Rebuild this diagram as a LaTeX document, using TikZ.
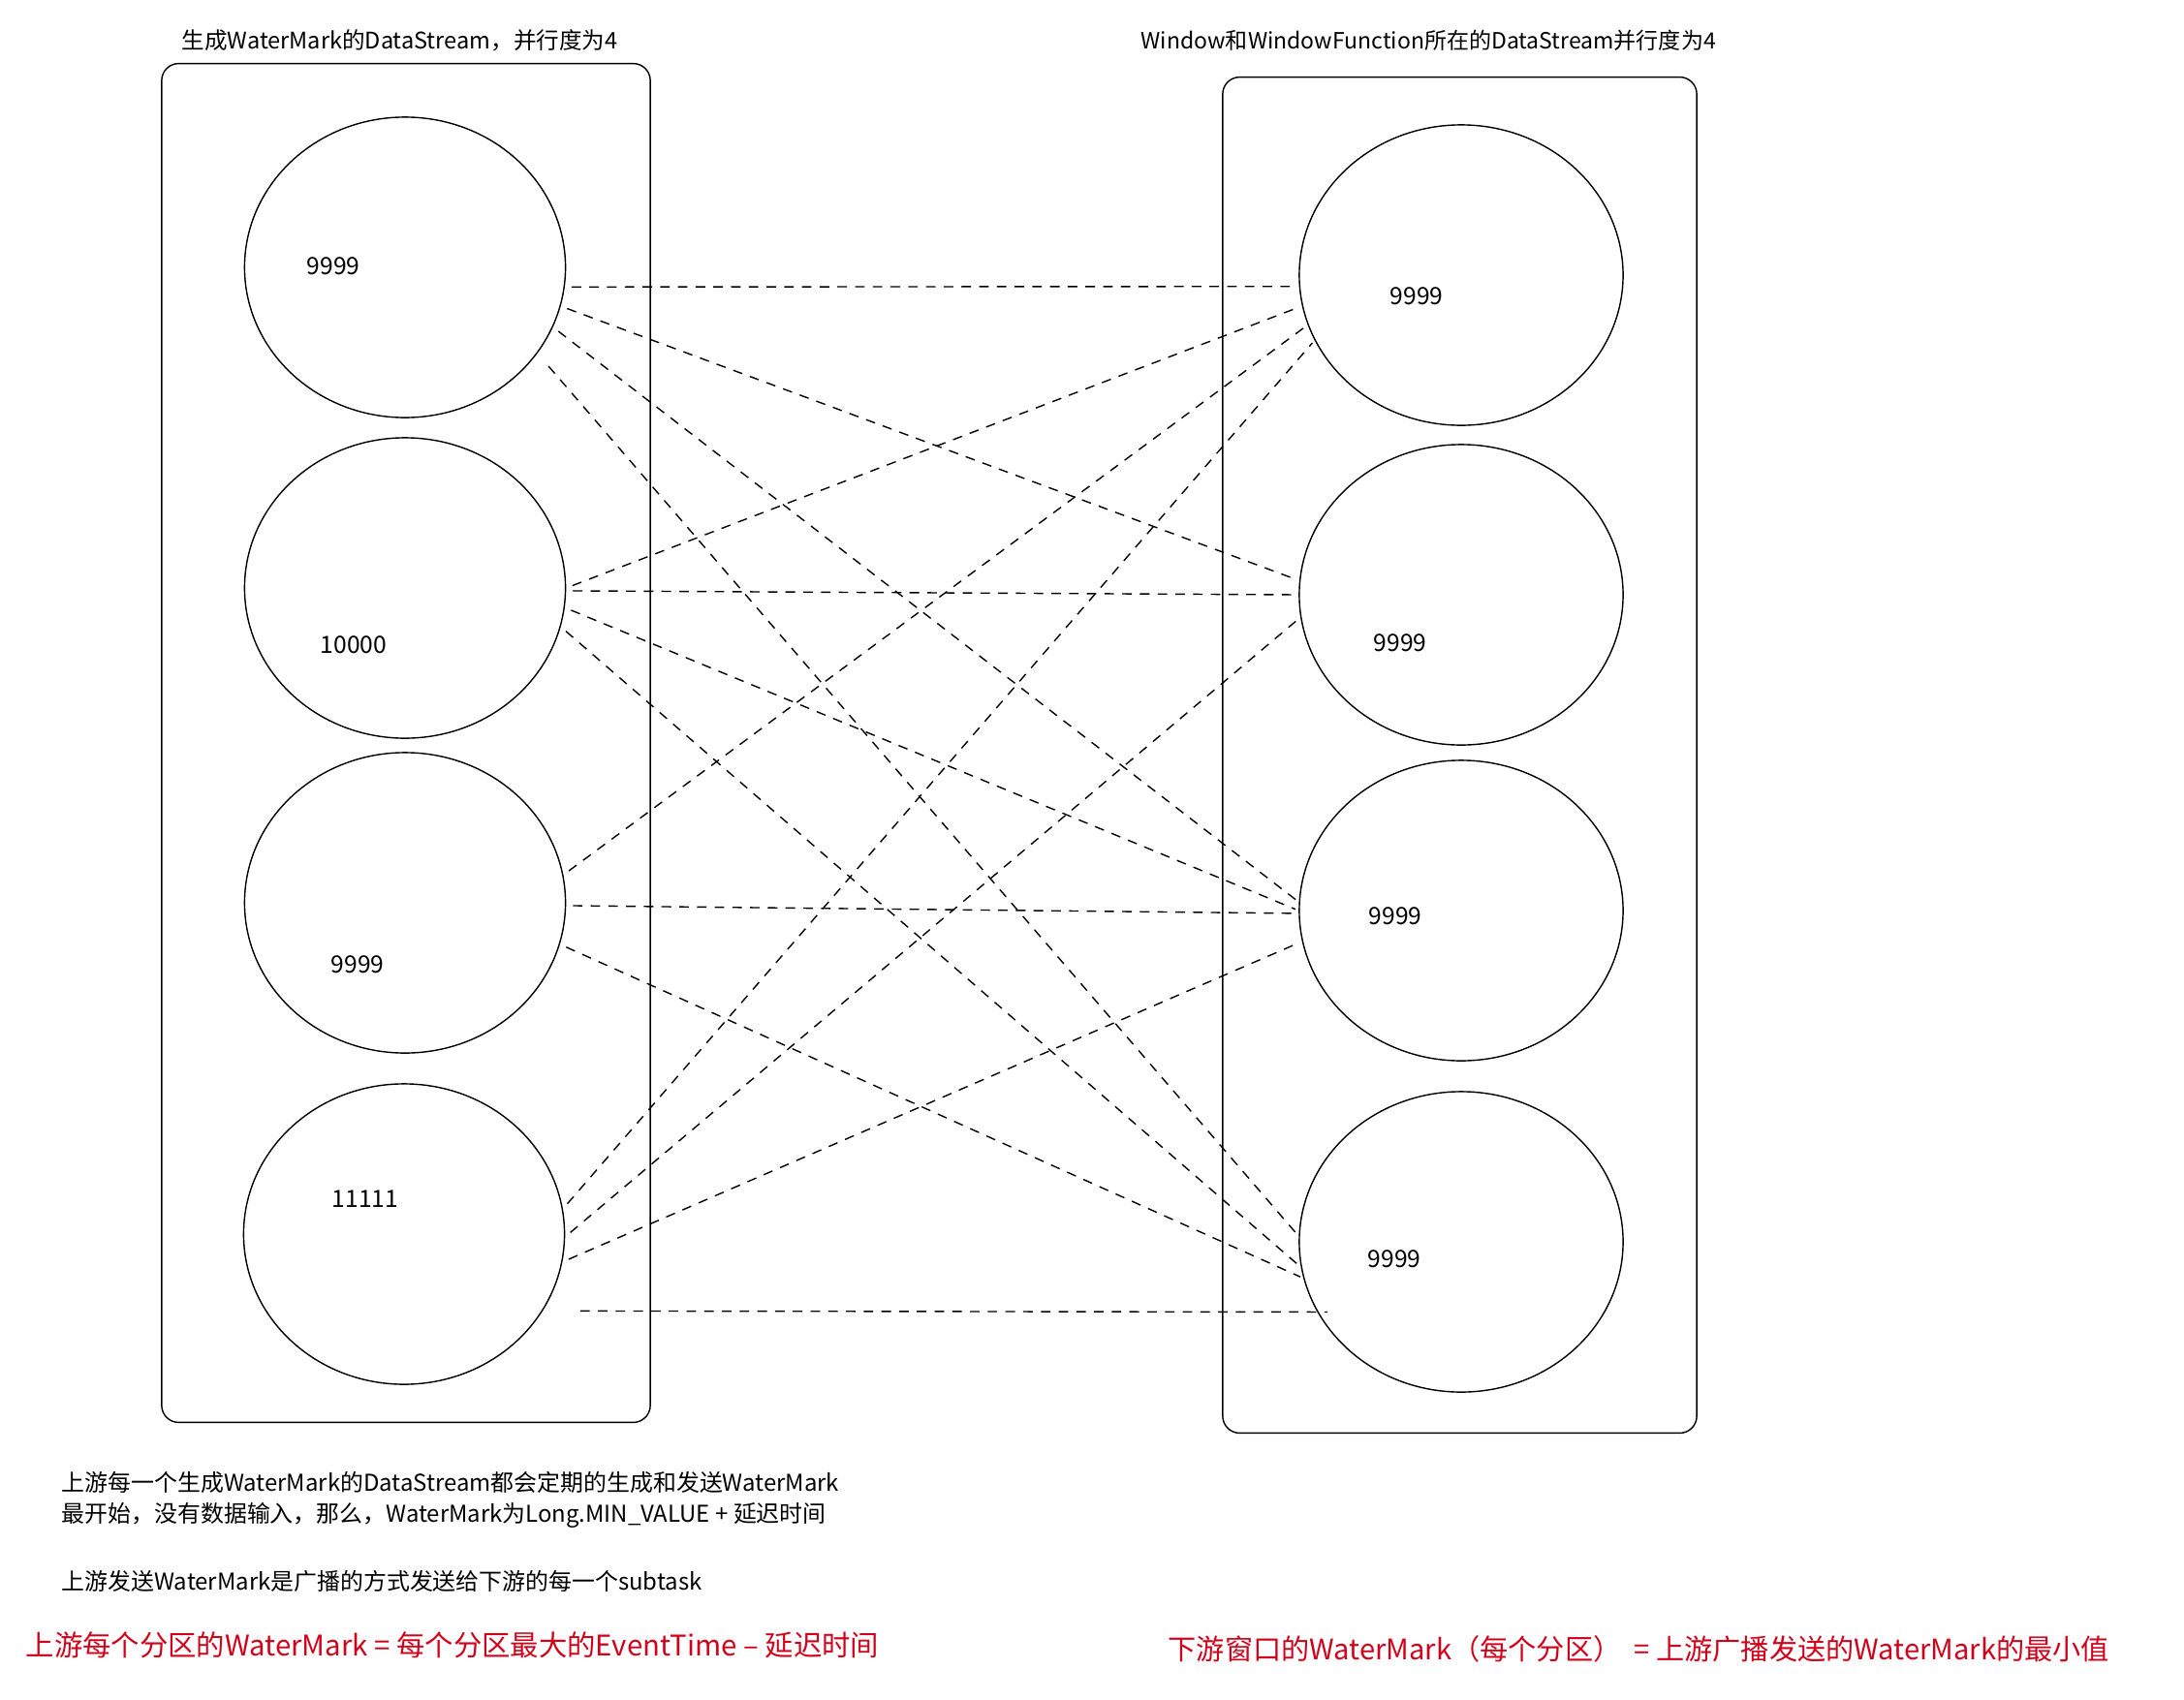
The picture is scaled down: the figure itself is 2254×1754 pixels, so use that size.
\documentclass[tikz,border=0pt]{standalone}
\usepackage{fontspec}
\setmainfont{Noto Sans CJK SC}
\usetikzlibrary{shapes.geometric}
\definecolor{wmred}{RGB}{208,2,27}

\begin{document}
\begin{tikzpicture}[x=0.01cm,y=-0.01cm]
  \tikzstyle{frame}=[draw,rounded corners=5pt,line width=0.4pt,inner sep=0pt]
  \tikzstyle{task}=[draw,ellipse,line width=0.4pt,minimum width=3.31cm,minimum height=3.1cm,inner sep=0pt]
  \tikzstyle{num}=[inner sep=0pt,font=\fontsize{7pt}{8pt}\selectfont]
  \tikzstyle{txt}=[anchor=west,inner sep=0pt,font=\fontsize{6.8pt}{8pt}\selectfont]
  \tikzstyle{rule}=[anchor=west,inner sep=0pt,text=wmred,font=\fontsize{8.35pt}{10pt}\selectfont]
  \tikzstyle{wm}=[line width=0.4pt,dash pattern=on 2.8pt off 2.4pt,shorten <=2pt,shorten >=1pt]
  \useasboundingbox (0,0) rectangle (2254,1754);
  \node[frame,minimum width=5.04cm,minimum height=14.02cm] (lbox) at (419,767) {};
  \node[frame,minimum width=4.89cm,minimum height=13.99cm] (rbox) at (1506.5,779.5) {};
  \node[txt,font=\fontsize{6.7pt}{8pt}\selectfont] (ltitle) at (187,42) {生成WaterMark的DataStream，并行度为4};
  \node[txt,font=\fontsize{6.55pt}{8pt}\selectfont] (rtitle) at (1177,42) {Window和WindowFunction所在的DataStream并行度为4};
  \node[task] (l1) at (418,276) {};
  \node[task] (l2) at (418,607) {};
  \node[task] (l3) at (418,932) {};
  \node[task] (l4) at (417,1274) {};
  \node[task,minimum width=3.34cm] (r1) at (1508,284) {};
  \node[task,minimum width=3.34cm] (r2) at (1508,614) {};
  \node[task,minimum width=3.34cm] (r3) at (1508,940) {};
  \node[task,minimum width=3.34cm] (r4) at (1508,1282) {};
  \node[num] (lv1) at (344,275) {9999};
  \node[num] (lv2) at (365,666) {10000};
  \node[num] (lv3) at (369,996) {9999};
  \node[num] (lv4) at (377,1238) {11111};
  \node[num] (rv1) at (1462,306) {9999};
  \node[num] (rv2) at (1445,664) {9999};
  \node[num] (rv3) at (1440,946) {9999};
  \node[num] (rv4) at (1439,1300) {9999};
  \draw[wm] (l1.-7) -- (r1.184);
  \draw[wm] (l1.-14) -- (r2.175);
  \draw[wm] (l1.-22) -- (r3.177);
  \draw[wm,shorten <=5pt] (l1.-33) -- (r4.178);
  \draw[wm] (l2.0) -- (r1.191);
  \draw[wm] (l2.-1) -- (r2.180);
  \draw[wm] (l2.-7) -- (r3.180);
  \draw[wm] (l2.-14) -- (r4.189);
  \draw[wm] (l3.10) -- (r1.198);
  \draw[wm] (l3.-1) -- (r3.181);
  \draw[wm] (l3.-15) -- (r4.193);
  \draw[wm] (l4.9) -- (r1.204);
  \draw[wm] (l4.-1) -- (r2.188);
  \draw[wm] (l4.-10) -- (r3.191);
  \draw[wm,shorten <=11pt,shorten >=-3pt] (l4.-29) -- (r4.206);
  \node[txt] (note1) at (63,1530) {上游每一个生成WaterMark的DataStream都会定期的生成和发送WaterMark};
  \node[txt] (note2) at (63,1564) {最开始，没有数据输入，那么，WaterMark为Long.MIN\_VALUE + 延迟时间};
  \node[txt] (note3) at (63,1632) {上游发送WaterMark是广播的方式发送给下游的每一个subtask};
  \node[rule] (upwm) at (26,1698) {上游每个分区的WaterMark = 每个分区最大的EventTime – 延迟时间};
  \node[rule,font=\fontsize{8.3pt}{10pt}\selectfont] (downwm) at (1205,1702) {下游窗口的WaterMark（每个分区） \ = 上游广播发送的WaterMark的最小值};
\end{tikzpicture}
\end{document}
